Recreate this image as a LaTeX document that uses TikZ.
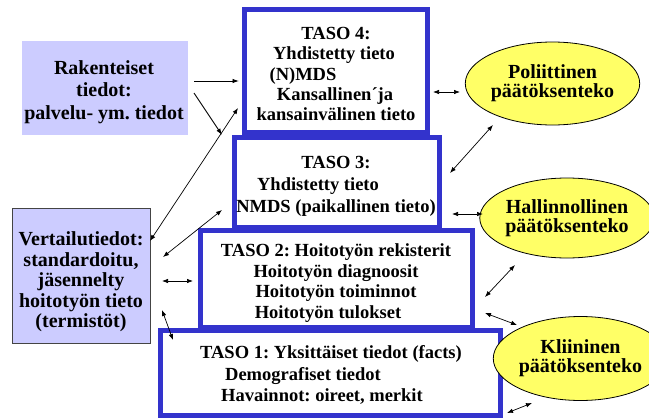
\documentclass[tikz,border=0pt]{standalone}
\usepackage{fontspec}
\setmainfont{Liberation Serif}[BoldFont={Liberation Serif Bold}]
\usetikzlibrary{shapes.geometric,arrows.meta}
\definecolor{tasoblue}{HTML}{3333CC}
\definecolor{lav}{HTML}{CCCCFF}
\definecolor{ellyellow}{HTML}{FFFF66}
\definecolor{vborder}{HTML}{444444}
\frenchspacing
\begin{document}
\begin{tikzpicture}[x=1pt,y=-1pt,
  tasobox/.style={draw=tasoblue, line width=5pt, fill=white, rectangle, inner sep=0pt},
  tline/.style={anchor=base, inner sep=0pt, font=\bfseries\fontsize{18.5}{20}\selectfont},
  sidebox/.style={fill=lav, rectangle, inner sep=0pt},
  sidetext/.style={align=center, inner sep=0pt, anchor=north},
  decision/.style={ellipse, draw=black, line width=0.8pt, fill=ellyellow, inner sep=0pt, align=center, font=\bfseries\fontsize{20}{19}\selectfont},
  link/.style={line width=0.7pt, {Latex[length=6pt,width=4.5pt]}-{Latex[length=6pt,width=4.5pt]}},
  feed/.style={line width=0.9pt, -{Latex[length=6.5pt,width=4.5pt]}}
]
\useasboundingbox (0,0) rectangle (649,418);
\fill[white] (0,0) rectangle (649,418);

% side boxes
\node[sidebox, minimum width=166pt, minimum height=94pt] (rak) at (105,88) {};
\node[sidetext, font=\bfseries\fontsize{20}{22.5}\selectfont] (raktext) at (104,60) {Rakenteiset\\tiedot:\\palvelu- ym. tiedot};
\node[sidebox, draw=vborder, line width=0.8pt, minimum width=138pt, minimum height=135pt] (vert) at (81,275.5) {};
\node[sidetext, font=\bfseries\fontsize{20}{20.5}\selectfont] (verttext) at (81,231.5) {Vertailutiedot:\\standardoitu,\\jäsennelty\\hoitotyön tieto\\(termistöt)};

% TASO boxes
\node[tasobox, minimum width=183pt, minimum height=123pt] (t4) at (336,71) {};
\node[tasobox, minimum width=205pt, minimum height=90pt] (t3) at (337,182.5) {};
\node[tasobox, minimum width=272pt, minimum height=97pt] (t2) at (336.5,279) {};
\node[tasobox, minimum width=340pt, minimum height=85pt] (t1) at (330.5,373) {};

\node[tline] (t4a) at (336,39) {TASO 4:};
\node[tline] (t4b) at (334,59) {Yhdistetty tieto};
\node[tline] (t4c) at (303,80) {(N)MDS};
\node[tline] (t4d) at (335,100) {Kansallinen´ja};
\node[tline] (t4e) at (336,120) {kansainvälinen tieto};

\node[tline] (t3a) at (336,168) {TASO 3:};
\node[tline] (t3b) at (318,190) {Yhdistetty tieto};
\node[tline] (t3c) at (336,212) {NMDS (paikallinen tieto)};

\node[tline] (t2a) at (336,256) {TASO 2: Hoitotyön rekisterit};
\node[tline] (t2b) at (336,277) {Hoitotyön diagnoosit};
\node[tline] (t2c) at (336,297) {Hoitotyön toiminnot};
\node[tline] (t2d) at (328,318) {Hoitotyön tulokset};

\node[tline] (t1a) at (331,358) {TASO 1: Yksittäiset tiedot (facts)};
\node[tline] (t1b) at (303,380) {Demografiset tiedot};
\node[tline] (t1c) at (322,401) {Havainnot: oireet, merkit};

% decision ellipses
\node[decision, minimum width=161pt, minimum height=83pt] (pol) at (552.5,83.5) {Poliittinen\\päätöksenteko};
\node[decision, minimum width=156pt, minimum height=80pt] (hal) at (567,218) {Hallinnollinen\\päätöksenteko};
\node[decision, minimum width=138pt, minimum height=84pt] (kli) at (580.5,358.5) {Kliininen\\päätöksenteko};

% connector end points
\coordinate (r1s) at (194,81);  \coordinate (r1e) at (239,81);
\coordinate (r2s) at (194,93);  \coordinate (r2e) at (222,135);
\coordinate (v1s) at (150,241); \coordinate (v1e) at (238,108);
\coordinate (v2s) at (163,257); \coordinate (v2e) at (222,210);
\coordinate (v3s) at (162,281); \coordinate (v3e) at (193,281);
\coordinate (v4s) at (162,310); \coordinate (v4e) at (173,340);
\coordinate (p1s) at (433,92);  \coordinate (p1e) at (460,92);
\coordinate (p2s) at (450,173); \coordinate (p2e) at (493,125);
\coordinate (h1s) at (452,214); \coordinate (h1e) at (483,214);
\coordinate (h2s) at (485,297); \coordinate (h2e) at (515,265);
\coordinate (k1s) at (485,313); \coordinate (k1e) at (517,325);
\coordinate (k2s) at (507,413); \coordinate (k2e) at (532,403);

\draw[feed] (r1s) -- (r1e);
\draw[feed] (r2s) -- (r2e);
\draw[link] (v1s) -- (v1e);
\draw[link] (v2s) -- (v2e);
\draw[link] (v3s) -- (v3e);
\draw[link] (v4s) -- (v4e);
\draw[link] (p1s) -- (p1e);
\draw[link] (p2s) -- (p2e);
\draw[link] (h1s) -- (h1e);
\draw[link] (h2s) -- (h2e);
\draw[link] (k1s) -- (k1e);
\draw[link] (k2s) -- (k2e);
\end{tikzpicture}
\end{document}
